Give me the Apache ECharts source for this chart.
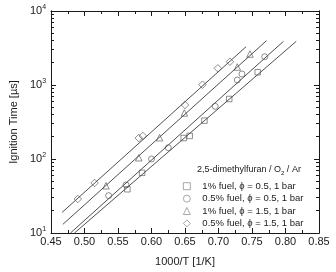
<!DOCTYPE html>
<html><head><meta charset="utf-8">
<script src="https://cdn.jsdelivr.net/npm/echarts@6/dist/echarts.min.js"></script>
<style>html,body{margin:0;padding:0;background:#fff}#c{width:336px;height:272px}</style>
</head><body><div id="c"></div>
<script>
// 1% fuel, phi=0.5 (squares)
const sqX = [0.564, 0.586, 0.648, 0.657, 0.679, 0.716, 0.7585];
const sqY = [39, 65, 192, 205, 330, 647, 1486];
// 0.5% fuel, phi=0.5 (circles)
const ciX = [0.536, 0.562, 0.600, 0.625, 0.695, 0.728, 0.735, 0.769];
const ciY = [32, 44.6, 100, 142, 515, 1170, 1410, 2410];
// 1% fuel, phi=1.5 (triangles)
const trX = [0.532, 0.581, 0.612, 0.649, 0.728, 0.747];
const trY = [43.5, 104, 194, 419, 1750, 2620];
// 0.5% fuel, phi=1.5 (diamonds)
const diX = [0.490, 0.515, 0.581, 0.587, 0.650, 0.676, 0.699, 0.717];
const diY = [28.8, 47.4, 192, 205, 537, 1010, 1680, 2065];
// fit lines (end points)
const sqFitX = [0.485, 0.816], sqFitY = [10, 3890];
const ciFitX = [0.479, 0.797], ciFitY = [10, 3890];
const trFitX = [0.4677, 0.7716], trFitY = [13.1, 3970];
const diFitX = [0.4666, 0.7413], diFitY = [19, 3300];

const names = ['1% fuel, \u03d5 = 0.5, 1 bar', '0.5% fuel, \u03d5 = 0.5, 1 bar', '1% fuel, \u03d5 = 1.5, 1 bar', '0.5% fuel, \u03d5 = 1.5, 1 bar'];
const xTicks = [0.45, 0.50, 0.55, 0.60, 0.65, 0.70, 0.75, 0.80, 0.85];
const yMajor = [10, 100, 1000, 10000];
const yMinor = [];
[10, 100, 1000].forEach(d => { for (let k = 2; k <= 9; k++) yMinor.push(k * d); });

const pair = (xs, ys) => xs.map((x, i) => [x, ys[i]]);
const FONT = 'Liberation Sans, Arial, sans-serif';
const INK = '#1a1a1a';

const chart = echarts.init(document.getElementById('c'), null, {renderer: 'canvas'});

const yBase = {
  type: 'log', logBase: 10, min: 10, max: 10000,
  splitLine: {show: false},
  axisLine: {show: true, lineStyle: {color: INK, width: 1}},
};
const markerStyle = {color: 'rgba(255,255,255,0)', borderColor: '#444', borderWidth: 0.75};

const scatter = (name, data, symbol, size) => ({
  name, type: 'scatter', data, symbol, symbolSize: size,
  itemStyle: markerStyle, z: 3
});
const fit = (data) => ({
  type: 'line', data, symbol: 'none', silent: true,
  lineStyle: {color: '#222', width: 0.8}, z: 2
});

chart.setOption({
  animation: false,
  backgroundColor: '#fff',
  textStyle: {fontFamily: FONT},
  title: {
    text: '2,5-dimethylfuran / O{s|2} / Ar',
    left: 197, top: 164, padding: 0,
    textStyle: {fontFamily: FONT, fontSize: 9, fontWeight: 'normal', color: INK,
      rich: {s: {fontSize: 6, padding: [6, 0, 0, 0], fontFamily: FONT, color: INK}}}
  },
  legend: {
    data: names, orient: 'vertical', left: 183, top: 180, padding: 0,
    itemWidth: 7, itemHeight: 7, itemGap: 0,
    itemStyle: {borderWidth: 0.7, borderColor: '#666'},
    textStyle: {fontFamily: FONT, fontSize: 9.5, lineHeight: 12.4, color: INK, padding: [0, 0, 0, 7]}
  },
  grid: {left: 42.5, right: 17, top: 11, bottom: 38, containLabel: false},
  xAxis: [{
    type: 'value', min: 0.45, max: 0.85, interval: 0.05,
    name: '1000/T [1/K]', nameLocation: 'middle', nameGap: 23,
    nameTextStyle: {fontFamily: FONT, fontSize: 11, color: INK},
    axisLine: {lineStyle: {color: INK, width: 1}},
    axisTick: {inside: true, length: 5, lineStyle: {color: INK}},
    minorTick: {show: true, splitNumber: 2, length: 3, lineStyle: {color: INK}},
    splitLine: {show: false},
    axisLabel: {fontFamily: FONT, fontSize: 11, color: INK, margin: 3,
      formatter: v => v.toFixed(2)}
  }, {
    type: 'value', position: 'top', min: 0.45, max: 0.85, interval: 0.05,
    axisLine: {lineStyle: {color: INK, width: 1}},
    axisTick: {inside: true, length: 5, lineStyle: {color: INK}},
    minorTick: {show: true, splitNumber: 2, length: 3, lineStyle: {color: INK}},
    splitLine: {show: false}, axisLabel: {show: false}
  }],
  yAxis: [Object.assign({}, yBase, {
    position: 'left',
    name: 'Ignition Time [\u00b5s]', nameLocation: 'middle', nameGap: 29,
    nameTextStyle: {fontFamily: FONT, fontSize: 11, color: INK},
    axisTick: {inside: true, length: 5, lineStyle: {color: INK}},
    axisLabel: {fontFamily: FONT, margin: 5, color: INK,
      formatter: v => '{b|10}{s|' + Math.round(Math.log10(v)) + '}',
      rich: {b: {fontSize: 11, fontFamily: FONT, color: INK},
             s: {fontSize: 7, fontFamily: FONT, color: INK, padding: [0, 0, 8, 0]}}}
  }), Object.assign({}, yBase, {
    position: 'left',
    axisTick: {inside: true, length: 3, customValues: yMinor, lineStyle: {color: INK}},
    axisLabel: {show: false}
  }), Object.assign({}, yBase, {
    position: 'right',
    axisTick: {inside: true, length: 5, lineStyle: {color: INK}},
    axisLabel: {show: false}
  }), Object.assign({}, yBase, {
    position: 'right',
    axisTick: {inside: true, length: 3, customValues: yMinor, lineStyle: {color: INK}},
    axisLabel: {show: false}
  })],
  series: [
    fit(pair(sqFitX, sqFitY)),
    fit(pair(ciFitX, ciFitY)),
    fit(pair(trFitX, trFitY)),
    fit(pair(diFitX, diFitY)),
    scatter(names[0], pair(sqX, sqY), 'rect', 5.5),
    scatter(names[1], pair(ciX, ciY), 'circle', 6),
    scatter(names[2], pair(trX, trY), 'triangle', 6.5),
    scatter(names[3], pair(diX, diY), 'diamond', 7.5)
  ]
});
</script></body></html>
